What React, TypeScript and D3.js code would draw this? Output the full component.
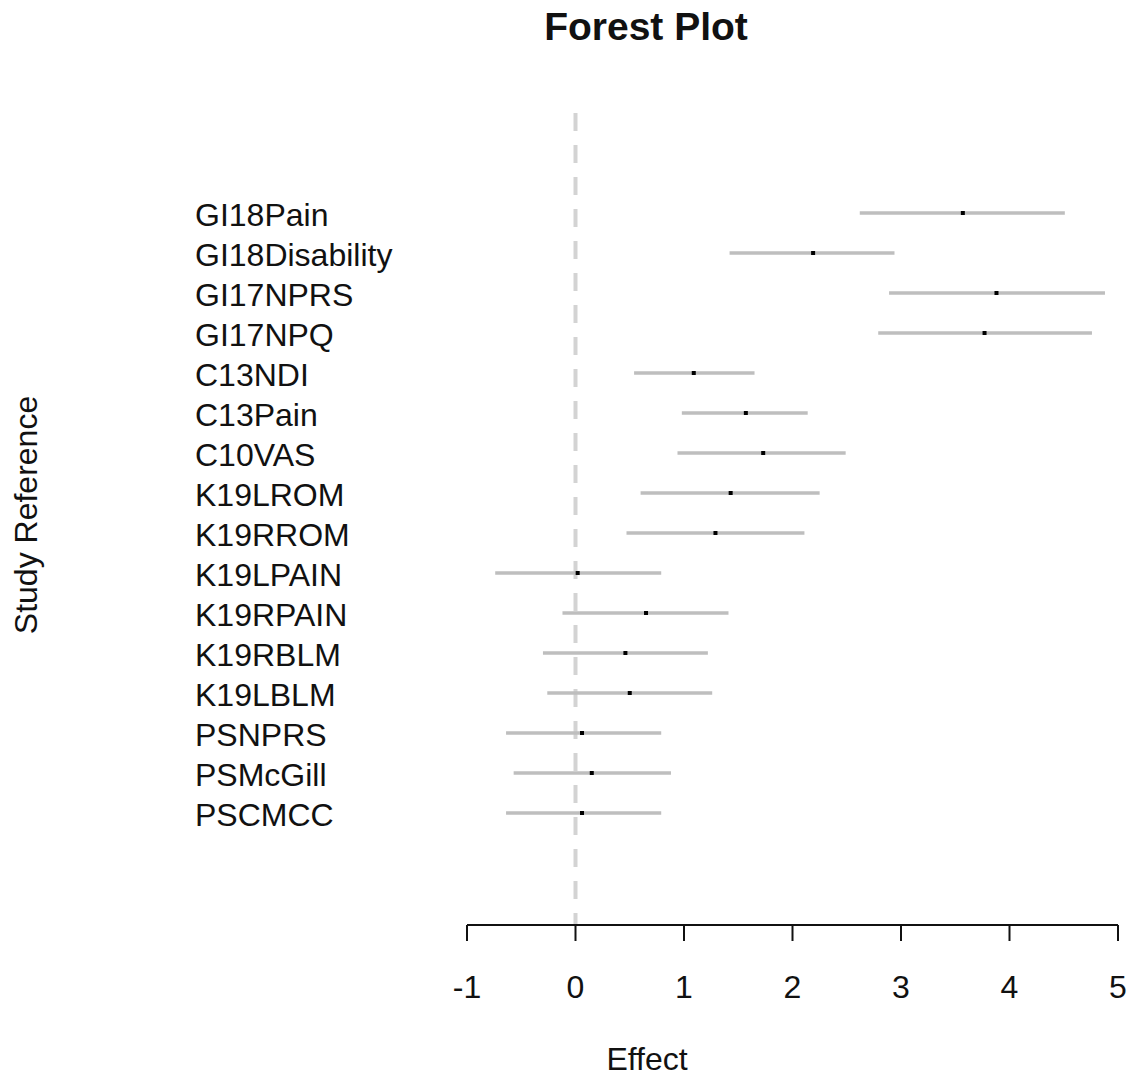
import React from "react";
import * as d3 from "d3";

const studies = [
  "GI18Pain", "GI18Disability", "GI17NPRS", "GI17NPQ", "C13NDI", "C13Pain", "C10VAS",
  "K19LROM", "K19RROM", "K19LPAIN", "K19RPAIN", "K19RBLM", "K19LBLM", "PSNPRS", "PSMcGill", "PSCMCC",
];
const effect = [3.57, 2.19, 3.88, 3.77, 1.09, 1.57, 1.73, 1.43, 1.29, 0.02, 0.65, 0.46, 0.5, 0.06, 0.15, 0.06];
const lower = [2.62, 1.42, 2.89, 2.79, 0.54, 0.98, 0.94, 0.6, 0.47, -0.74, -0.12, -0.3, -0.26, -0.64, -0.57, -0.64];
const upper = [4.51, 2.94, 4.88, 4.76, 1.65, 2.14, 2.49, 2.25, 2.11, 0.79, 1.41, 1.22, 1.26, 0.79, 0.88, 0.79];
const xTicks = [-1, 0, 1, 2, 3, 4, 5];

export default function App() {
  const W = 1128, H = 1077;
  const x = d3.scaleLinear().domain([-1, 5]).range([467, 1118]);
  const y = d3.scalePoint<string>().domain(studies).range([213, 813]);
  const axisY = 925;
  const font = "'Liberation Sans', Arial, sans-serif";
  const fs = 32;
  return (
    <svg width={W} height={H} style={{ position: "absolute", left: 0, top: 0, background: "#fff" }} fontFamily={font}>
      <text x={646} y={40} textAnchor="middle" fontWeight="bold" fontSize={39} fill="#111">Forest Plot</text>
      <line x1={x(0)} x2={x(0)} y1={113} y2={axisY} stroke="#d3d3d3" strokeWidth={4} strokeDasharray="18,14" />
      {studies.map((s, i) => (
        <g key={s}>
          <text x={195} y={(y(s) as number) + 13} fontSize={fs} fill="#111">{s}</text>
          <line x1={x(lower[i])} x2={x(upper[i])} y1={y(s)} y2={y(s)} stroke="#bebebe" strokeWidth={3.5} />
          <rect x={x(effect[i]) - 2} y={(y(s) as number) - 2} width={4} height={4} fill="#000" />
        </g>
      ))}
      <line x1={x(-1)} x2={x(5)} y1={axisY} y2={axisY} stroke="#111" strokeWidth={2} />
      {xTicks.map((t) => (
        <g key={t}>
          <line x1={x(t)} x2={x(t)} y1={axisY} y2={axisY + 16} stroke="#111" strokeWidth={2} />
          <text x={x(t)} y={998} textAnchor="middle" fontSize={fs} fill="#111">{t}</text>
        </g>
      ))}
      <text x={647} y={1070} textAnchor="middle" fontSize={fs} fill="#111">Effect</text>
      <text transform="translate(37,515) rotate(-90)" textAnchor="middle" fontSize={fs} fill="#111">Study Reference</text>
    </svg>
  );
}
